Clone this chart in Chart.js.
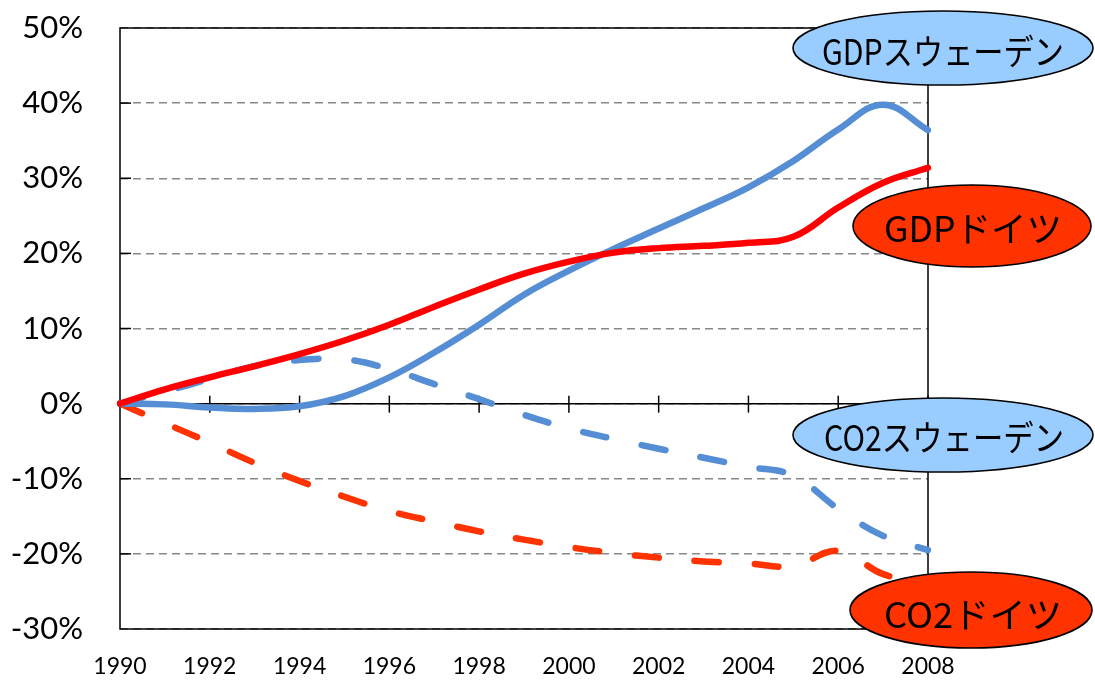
<!DOCTYPE html>
<html><head><meta charset="utf-8">
<script src="https://cdn.jsdelivr.net/npm/chart.js@4.4.1/dist/chart.umd.min.js"></script>
<style>html,body{margin:0;padding:0;background:#fff;}#wrap{width:1095px;height:682px;position:relative;}</style>
</head><body><div id="wrap"><canvas id="c" width="1095" height="682"></canvas></div>
<script>
const years = ['1990','1991','1992','1993','1994','1995','1996','1997','1998','1999','2000','2001','2002','2003','2004','2005','2006','2007','2008'];
const gdpSweden  = [0,-0.1,-0.5,-0.7,-0.35,1.0,3.5,6.8,10.5,14.5,17.7,20.6,23.3,26.0,28.8,32.3,36.5,39.8,36.4];
const gdpGermany = [0,1.9,3.5,5.0,6.6,8.4,10.5,12.9,15.2,17.3,18.9,20.1,20.7,21.0,21.4,22.2,26.1,29.4,31.4];
const co2Sweden  = [0,1.6,3.3,5.0,5.8,5.9,4.6,2.6,0.6,-1.5,-3.3,-4.7,-6.0,-7.2,-8.4,-9.6,-14.0,-17.6,-19.5];
const co2Germany = [0,-2.6,-5.2,-7.9,-10.3,-12.4,-14.3,-15.7,-17.0,-18.1,-19.1,-19.9,-20.5,-21.0,-21.3,-21.6,-19.6,-22.7,-24.0];
const seriesNames = ['GDPドイツ','GDPスウェーデン','CO2ドイツ','CO2スウェーデン'];
const yTicks = [-30,-20,-10,0,10,20,30,40,50];

const labelBubbles = [
  {text:'GDPスウェーデン', cx:943, cy:48,  rx:150, ry:37, fill:'#99CCFF', tx:943, ty:52,  tw:242},
  {text:'GDPドイツ',       cx:972, cy:226, rx:119, ry:41, fill:'#FF3300', tx:973, ty:229, tw:178},
  {text:'CO2スウェーデン', cx:943, cy:435, rx:150, ry:37, fill:'#99CCFF', tx:944, ty:438, tw:240},
  {text:'CO2ドイツ',       cx:971, cy:610, rx:121, ry:38, fill:'#FF3300', tx:973, ty:615, tw:178}
];

const decor = {
  id:'decor',
  beforeDatasetsDraw(chart){
    const {ctx, chartArea:a, scales:{x,y}} = chart;
    ctx.save();
    ctx.strokeStyle='#000'; ctx.lineWidth=1.5;
    ctx.strokeRect(a.left, a.top, a.right-a.left, a.bottom-a.top);
    yTicks.forEach(v=>{ if(v===50||v===-30) return; const py=y.getPixelForValue(v);
      ctx.beginPath(); ctx.moveTo(a.left,py); ctx.lineTo(a.left+11,py); ctx.stroke(); });
    const py0 = y.getPixelForValue(0);
    ctx.beginPath(); ctx.moveTo(a.left,py0); ctx.lineTo(a.right,py0); ctx.stroke();
    years.forEach((yr,i)=>{ if(i%2!==0||i===0) return; const px=x.getPixelForValue(i);
      ctx.beginPath(); ctx.moveTo(px,py0-8); ctx.lineTo(px,py0+9); ctx.stroke(); });
    ctx.restore();
  },
  afterDraw(chart){
    const ctx = chart.ctx;
    labelBubbles.forEach(b=>{
      ctx.save();
      ctx.beginPath(); ctx.ellipse(b.cx,b.cy,b.rx,b.ry,0,0,Math.PI*2);
      ctx.fillStyle=b.fill; ctx.fill();
      ctx.lineWidth=1.6; ctx.strokeStyle='#000'; ctx.stroke();
      ctx.font='35px "Noto Sans CJK JP"';
      ctx.fillStyle='#000'; ctx.textAlign='center'; ctx.textBaseline='middle';
      const w = ctx.measureText(b.text).width;
      const s = b.tw / w;
      ctx.translate(b.tx,b.ty); ctx.scale(s,1);
      ctx.fillText(b.text,0,0);
      ctx.restore();
    });
  }
};

new Chart(document.getElementById('c'), {
  type:'line',
  data:{
    labels:years,
    datasets:[
      {label:seriesNames[0], data:gdpGermany, borderColor:'#FF0000', borderWidth:6.5, tension:0.4, pointRadius:0, fill:false, borderCapStyle:'round'},
      {label:seriesNames[1], data:gdpSweden, borderColor:'#558ED5', borderWidth:6.5, tension:0.4, pointRadius:0, fill:false, borderCapStyle:'round'},
      {label:seriesNames[2], data:co2Germany, borderColor:'#FF3300', borderWidth:6.5, tension:0.4, pointRadius:0, fill:false, borderDash:[24,36], borderCapStyle:'round'},
      {label:seriesNames[3], data:co2Sweden, borderColor:'#558ED5', borderWidth:6.5, tension:0.4, pointRadius:0, fill:false, borderDash:[24,36], borderCapStyle:'round'}
    ]
  },
  options:{
    responsive:false, animation:false,
    layout:{padding:{top:28, right:167, left:0, bottom:0}},
    plugins:{legend:{display:false}, tooltip:{enabled:false}},
    scales:{
      x:{
        type:'category', offset:false,
        grid:{display:false, drawTicks:false},
        border:{display:false},
        afterFit(s){ s.height=53; s.paddingLeft=0; s.paddingRight=0; },
        ticks:{autoSkip:false, maxRotation:0, padding:24, color:'#000',
          font:{family:'Lato', size:23},
          callback(v,i){ return i%2===0 ? years[i] : ''; }}
      },
      y:{
        min:-30, max:50,
        afterFit(s){ s.width=120; s.paddingTop=0; s.paddingBottom=0; },
        afterBuildTicks(s){ s.ticks = yTicks.map(v=>({value:v})); },
        border:{display:false, dash:[8,5]},
        grid:{color:'#888888', lineWidth:1.5, drawTicks:false},
        ticks:{padding:37, color:'#000', font:{family:'Lato', size:31},
          callback(v){ return v+'%'; }}
      }
    }
  },
  plugins:[decor]
});
</script></body></html>
